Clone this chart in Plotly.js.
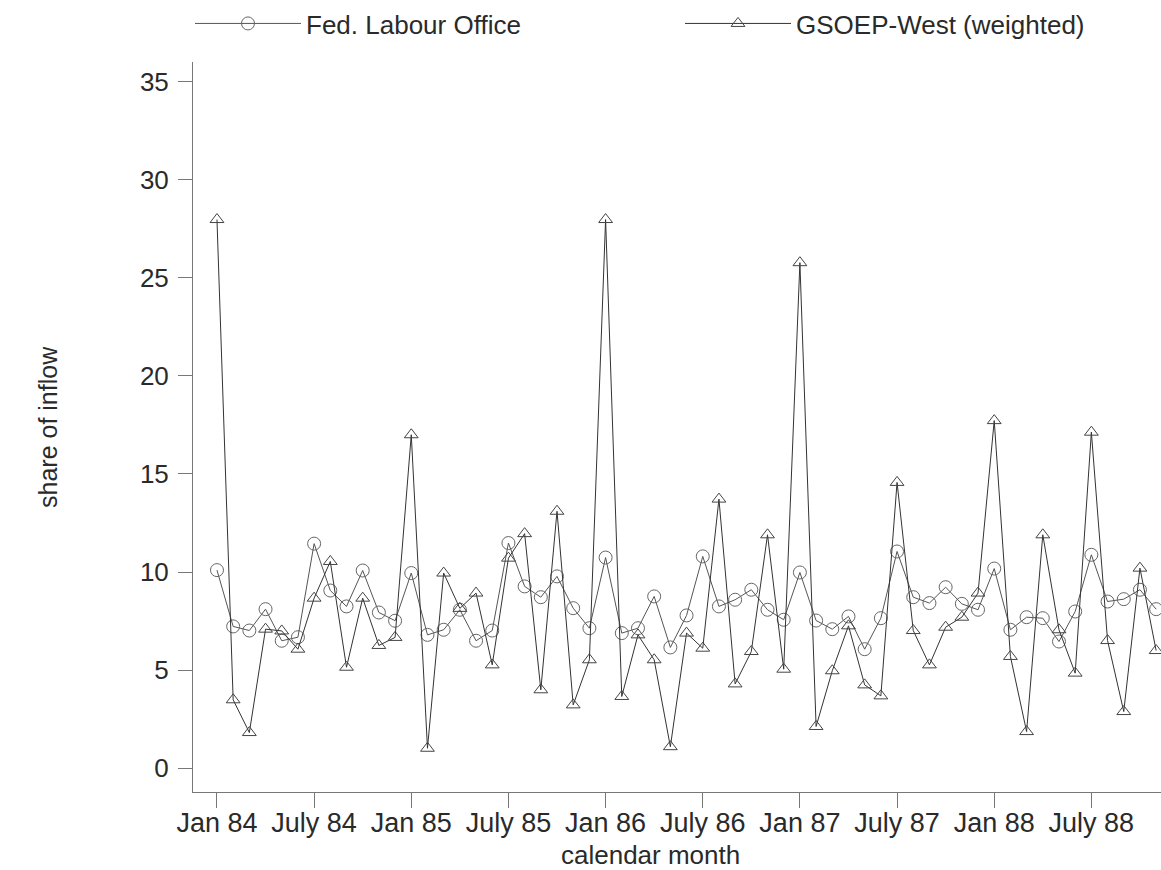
<!DOCTYPE html>
<html>
<head>
<meta charset="utf-8">
<script src="https://cdn.plot.ly/plotly-3.0.1.min.js"></script>
<style>html,body{margin:0;padding:0;background:#fff;}#chart{width:1161px;height:870px;}</style>
</head>
<body>
<div id="chart"></div>
<script>
// month index 0 = Jan 84
const months = Array.from({length: 59}, (_, i) => i);
const tickMonths = [0, 6, 12, 18, 24, 30, 36, 42, 48, 54];
const tickLabels = ["Jan 84", "July 84", "Jan 85", "July 85", "Jan 86", "July 86", "Jan 87", "July 87", "Jan 88", "July 88"];
const yTicks = [0, 5, 10, 15, 20, 25, 30, 35];

const fedLabourOffice = [10.1, 7.23, 7.02, 8.11, 6.5, 6.68, 11.45, 9.06, 8.25, 10.08, 7.94, 7.52,
  9.95, 6.8, 7.06, 8.08, 6.5, 7.02, 11.48, 9.27, 8.72, 9.78, 8.16, 7.14,
  10.74, 6.89, 7.14, 8.76, 6.16, 7.79, 10.8, 8.25, 8.59, 9.1, 8.08, 7.57,
  9.98, 7.53, 7.09, 7.74, 6.07, 7.65, 11.05, 8.72, 8.42, 9.23, 8.38, 8.08,
  10.18, 7.06, 7.7, 7.65, 6.46, 7.99, 10.88, 8.5, 8.62, 9.1, 8.11];

const gsoepWest = [27.97, 3.49, 1.82, 7.09, 7.0, 6.07, 8.67, 10.54, 5.15, 8.67, 6.26, 6.67,
  17.0, 1.02, 9.95, 8.15, 8.93, 5.27, 10.71, 11.96, 4.0, 13.1, 3.23, 5.53,
  27.97, 3.66, 6.8, 5.53, 1.1, 6.89, 6.12, 13.72, 4.3, 5.95, 11.9, 5.05,
  25.77, 2.13, 4.97, 7.26, 4.25, 3.69, 14.57, 7.02, 5.27, 7.19, 7.7, 8.93,
  17.72, 5.7, 1.87, 11.9, 7.06, 4.85, 17.13, 6.51, 2.89, 10.2, 6.0];

const FONT = "Liberation Sans, Arial, Helvetica, sans-serif";
const TXT = "#2a2a2a";

const traces = [
  {
    x: months, y: fedLabourOffice, name: "Fed. Labour Office", legend: "legend",
    type: "scatter", mode: "lines+markers",
    line: {color: "#555", width: 1},
    marker: {symbol: "circle-open", size: 13, color: "#666", line: {width: 1, color: "#666"}}
  },
  {
    x: months, y: gsoepWest, name: "GSOEP-West (weighted)", legend: "legend2",
    type: "scatter", mode: "lines+markers",
    line: {color: "#333", width: 1},
    marker: {symbol: "triangle-up-open", size: 12, color: "#444", line: {width: 1, color: "#444"}}
  }
];

const legendBase = {
  orientation: "h", xanchor: "left", y: 1.0849, yanchor: "top",
  itemwidth: 106,
  font: {family: FONT, size: 26, color: TXT},
  bgcolor: "rgba(0,0,0,0)", itemclick: false, itemdoubleclick: false
};

const layout = {
  width: 1161, height: 870,
  margin: {l: 193, r: 0, t: 62, b: 78},
  paper_bgcolor: "#fff", plot_bgcolor: "#fff",
  font: {family: FONT, size: 26, color: TXT},
  showlegend: true,
  legend: Object.assign({}, legendBase, {x: -0.0031}),
  legend2: Object.assign({}, legendBase, {x: 0.5031}),
  xaxis: {
    range: [-1.48, 58.3], tickmode: "array", tickvals: tickMonths, ticktext: tickLabels,
    showgrid: false, zeroline: false, showline: true, linecolor: "#777", linewidth: 1,
    ticks: "outside", ticklen: 15, tickcolor: "#777", tickwidth: 1,
    ticklabelstandoff: -8,
    tickfont: {family: FONT, size: 27, color: TXT}
  },
  yaxis: {
    range: [-1.21, 36.0], tickmode: "array", tickvals: yTicks,
    showgrid: false, zeroline: false, showline: true, linecolor: "#777", linewidth: 1,
    ticks: "outside", ticklen: 14, tickcolor: "#777", tickwidth: 1,
    ticklabelstandoff: 4,
    tickfont: {family: FONT, size: 26, color: TXT}
  },
  annotations: [
    {text: "share of inflow", xref: "paper", yref: "paper", x: -0.1498, y: 0.5,
     xanchor: "center", yanchor: "middle", textangle: -90, showarrow: false,
     font: {family: FONT, size: 25, color: TXT}},
    {text: "calendar month", xref: "paper", yref: "paper", x: 0.473, y: -0.0863,
     xanchor: "center", yanchor: "middle", showarrow: false,
     font: {family: FONT, size: 26, color: TXT}}
  ]
};

Plotly.newPlot("chart", traces, layout, {displayModeBar: false, staticPlot: true});
</script>
</body>
</html>
